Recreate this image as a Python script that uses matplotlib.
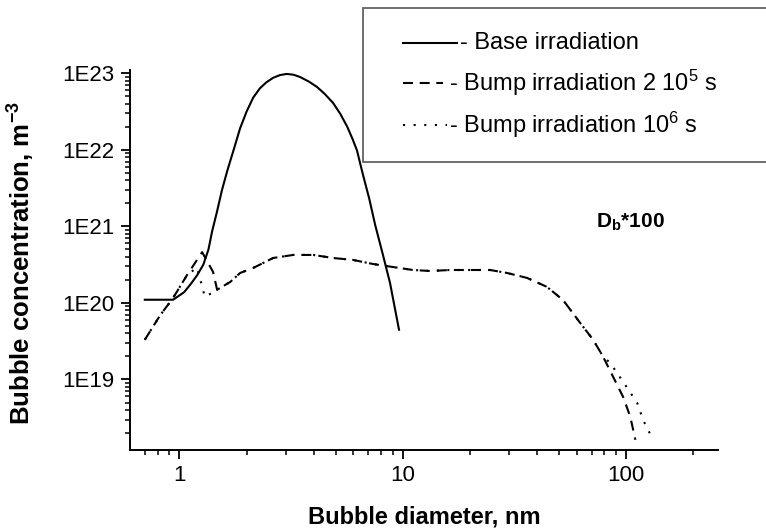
import matplotlib
matplotlib.use("Agg")
import matplotlib.pyplot as plt
from matplotlib.ticker import LogLocator, FixedLocator, FuncFormatter, NullFormatter
from matplotlib.lines import Line2D
from matplotlib.patches import Rectangle

plt.rcParams['font.family'] = ['Liberation Sans', 'DejaVu Sans']
plt.rcParams['mathtext.default'] = 'regular'

# ---- data ----
base_x = [0.70, 0.937, 1.05, 1.12, 1.20, 1.28, 1.35, 1.40, 1.47, 1.55, 1.64, 1.75, 1.87,
          2.0, 2.14, 2.29, 2.45, 2.63, 2.82, 3.02, 3.24, 3.47, 3.80, 4.13, 4.47, 4.88,
          5.25, 5.64, 5.96, 6.24, 6.46, 6.64, 7.08, 7.52, 8.13, 8.77, 9.62]
base_y = [1.10e20, 1.10e20, 1.38e20, 1.74e20, 2.29e20, 3.16e20, 5.01e20, 8.51e20, 1.51e21,
          2.95e21, 5.37e21, 1.0e22, 1.91e22, 3.16e22, 4.79e22, 6.31e22, 7.59e22, 8.71e22,
          9.44e22, 9.77e22, 9.55e22, 8.91e22, 7.76e22, 6.61e22, 5.37e22, 4.07e22, 2.95e22,
          2.0e22, 1.38e22, 9.77e21, 6.46e21, 4.68e21, 2.29e21, 1.05e21, 4.37e20, 1.82e20,
          4.47e19]

tail_x = [2.14, 2.63, 3.23, 3.97, 4.87, 5.99, 7.36, 9.05, 11.1, 13.3, 16.3, 20.0, 24.6,
          29.3, 36.0, 44.2, 52.2, 62.2, 71.2, 78.9]
tail_y = [2.86e20, 3.86e20, 4.23e20, 4.23e20, 3.86e20, 3.64e20, 3.22e20, 2.94e20, 2.69e20,
          2.61e20, 2.69e20, 2.69e20, 2.69e20, 2.46e20, 2.12e20, 1.62e20, 1.09e20, 5.5e19,
          3.3e19, 1.98e19]

bump1_x = [0.70, 0.82, 0.937, 1.083, 1.264, 1.415, 1.476, 1.55, 1.69, 1.87] + tail_x + \
          [87.5, 97.0, 104.4, 110.0]
bump1_y = [3.3e19, 6.9e19, 1.16e20, 2.32e20, 4.6e20, 2.54e20, 1.48e20, 1.62e20, 1.88e20,
           2.46e20] + tail_y + [1.08e19, 5.9e18, 3.25e18, 1.63e18]

bump2_x = [0.70, 0.82, 0.937, 1.083, 1.20, 1.30, 1.40, 1.55, 1.69, 1.87] + tail_x + \
          [84.8, 97.0, 112.0, 119.0, 132.0]
bump2_y = [3.3e19, 6.9e19, 1.16e20, 2.32e20, 2.9e20, 1.2e20, 1.35e20, 1.62e20, 1.88e20,
           2.46e20] + tail_y + [1.65e19, 9.3e18, 4.97e18, 2.98e18, 1.63e18]

labels = ['- Base irradiation', '- Bump irradiation 2 10$^5$ s', '- Bump irradiation 10$^6$ s']
ytick_vals = [1e19, 1e20, 1e21, 1e22, 1e23]
ytick_labels = ['1E19', '1E20', '1E21', '1E22', '1E23']
xtick_vals = [1, 10, 100]
xtick_labels = ['1', '10', '100']

W, H = 766, 529
fig = plt.figure(figsize=(W / 100, H / 100), dpi=100)
ax = fig.add_axes([130 / W, 1 - 450 / H, 588 / W, 380 / H])

lw = 1.5
dash_style = (0, (4.8, 3.4))
dot_style = (0, (1, 4))
ax.plot(base_x, base_y, color='black', lw=lw, solid_joinstyle='round')
ax.plot(bump1_x, bump1_y, color='black', lw=lw, linestyle=dash_style)
ax.plot(bump2_x, bump2_y, color='black', lw=lw, linestyle=dot_style)

ax.set_xscale('log')
ax.set_yscale('log')
ax.set_xlim(0.601, 257.8)
ax.set_ylim(1.2e18, 1.1e23)

for s in ['top', 'right']:
    ax.spines[s].set_visible(False)
for s in ['left', 'bottom']:
    ax.spines[s].set_linewidth(1.4)

ax.xaxis.set_major_locator(FixedLocator(xtick_vals))
ax.xaxis.set_major_formatter(FuncFormatter(lambda v, p: xtick_labels[xtick_vals.index(v)] if v in xtick_vals else ''))
ax.xaxis.set_minor_locator(LogLocator(base=10, subs=range(2, 10), numticks=20))
ax.xaxis.set_minor_formatter(NullFormatter())
ax.yaxis.set_major_locator(FixedLocator(ytick_vals))
ax.yaxis.set_major_formatter(FuncFormatter(lambda v, p: ytick_labels[ytick_vals.index(v)] if v in ytick_vals else ''))
ax.yaxis.set_minor_locator(LogLocator(base=10, subs=range(2, 10), numticks=20))
ax.yaxis.set_minor_formatter(NullFormatter())

ax.tick_params(which='major', direction='out', length=6.5, width=1.3, labelsize=16, pad=4.5)
ax.tick_params(which='minor', direction='out', length=3.5, width=1.1)

ax.set_xlabel('Bubble diameter, nm', fontsize=17, fontweight='bold')
ax.xaxis.set_label_coords(0.5, -0.145)
ax.set_ylabel('Bubble concentration, m$^{-3}$', fontsize=18.5, fontweight='bold')
ax.yaxis.set_label_coords(-0.158, 0.493)

fig.text(630 / W, 1 - 222 / H, r'D$_{b}$*100', fontsize=15, fontweight='bold',
         ha='center', va='center')

# legend box drawn manually
fig.patches.append(Rectangle((363 / W, 1 - 162 / H), (780 - 363) / W, 154 / H,
                             transform=fig.transFigure, fill=True, facecolor='white',
                             edgecolor='#555555', lw=1.2, zorder=5))
styles = ['-', (0, (4.8, 3.2)), (0, (1, 4.1))]
line_end = [457, 443, 447]
text_x = [460, 449, 449]
for i, (lab, st) in enumerate(zip(labels, styles)):
    yy = 1 - [43, 83, 125][i] / H
    fig.lines.append(Line2D([403 / W, line_end[i] / W], [yy, yy], transform=fig.transFigure,
                            color='black', lw=lw, linestyle=st, zorder=6))
    fig.text(text_x[i] / W, yy, lab, fontsize=17, ha='left', va='center', zorder=7)

fig.savefig('out.png', dpi=100)
